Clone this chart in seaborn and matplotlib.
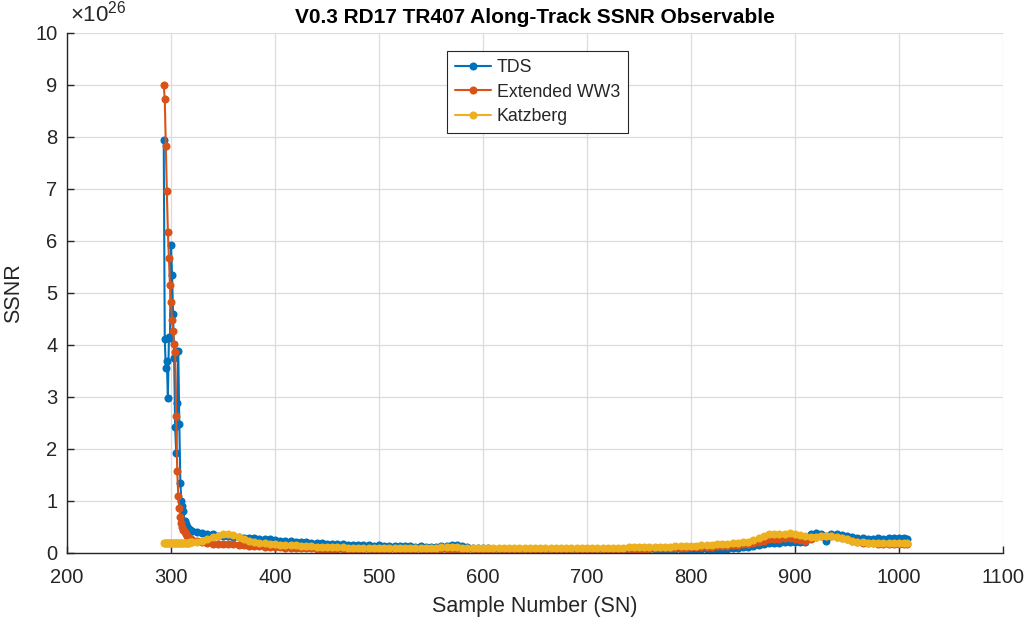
import numpy as np
import pandas as pd
import matplotlib
matplotlib.use("Agg")
import matplotlib.pyplot as plt
import seaborn as sns

# Sample numbers (dense near the spike, every 5 SN afterwards)
sample_number = list(range(293, 321)) + list(range(325, 1006, 5)) + [1008]

# SSNR values in units of 1e26
tds = [
    7.95, 4.12, 3.55, 3.70, 2.98, 4.15, 4.13, 5.93, 5.35, 4.60, 3.75, 2.42, 1.93, 2.88,
    3.88, 2.48, 1.35, 1.00, 0.90, 0.80, 0.62, 0.55, 0.50, 0.48, 0.46, 0.44, 0.43, 0.42,
    0.40, 0.38, 0.37, 0.36, 0.33, 0.32, 0.32, 0.30, 0.30, 0.29,
    0.28, 0.28, 0.27, 0.26, 0.26, 0.25, 0.24, 0.23, 0.23, 0.22,
    0.22, 0.21, 0.20, 0.20, 0.19, 0.18, 0.18, 0.17, 0.17, 0.16,
    0.16, 0.15, 0.15, 0.15, 0.14, 0.15, 0.14, 0.14, 0.13, 0.14,
    0.13, 0.13, 0.12, 0.13, 0.12, 0.12, 0.12, 0.13, 0.14, 0.15,
    0.15, 0.13, 0.11, 0.10, 0.10, 0.09, 0.09, 0.08, 0.08, 0.08,
    0.08, 0.07, 0.07, 0.07, 0.07, 0.07, 0.07, 0.07, 0.07, 0.07,
    0.07, 0.07, 0.07, 0.07, 0.07, 0.07, 0.07, 0.07, 0.07, 0.07,
    0.06, 0.06, 0.06, 0.06, 0.06, 0.07, 0.07, 0.07, 0.07, 0.07,
    0.07, 0.07, 0.07, 0.07, 0.07, 0.07, 0.07, 0.07, 0.07, 0.07,
    0.07, 0.08, 0.08, 0.09, 0.10, 0.11, 0.12, 0.14, 0.15, 0.17,
    0.19, 0.20, 0.20, 0.21, 0.21, 0.21, 0.22, 0.22, 0.36, 0.38,
    0.37, 0.23, 0.36, 0.37, 0.35, 0.33, 0.31, 0.29, 0.28, 0.27,
    0.27, 0.28, 0.27, 0.28, 0.29, 0.28, 0.29, 0.27,
]

extended_ww3 = [
    9.00, 8.73, 7.83, 6.96, 6.18, 5.68, 5.16, 4.83, 4.48, 4.27, 4.02, 3.87, 2.63, 1.57,
    1.10, 0.86, 0.70, 0.58, 0.50, 0.44, 0.40, 0.36, 0.33, 0.31, 0.29, 0.27, 0.26, 0.25,
    0.23, 0.21, 0.19, 0.18, 0.18, 0.18, 0.18, 0.17, 0.16, 0.15,
    0.14, 0.13, 0.13, 0.12, 0.12, 0.11, 0.11, 0.10, 0.10, 0.10,
    0.09, 0.09, 0.09, 0.08, 0.08, 0.08, 0.08, 0.08, 0.07, 0.07,
    0.07, 0.07, 0.07, 0.07, 0.07, 0.07, 0.07, 0.07, 0.07, 0.07,
    0.07, 0.07, 0.07, 0.07, 0.07, 0.07, 0.07, 0.07, 0.07, 0.07,
    0.07, 0.07, 0.07, 0.07, 0.07, 0.07, 0.07, 0.07, 0.07, 0.07,
    0.07, 0.07, 0.07, 0.07, 0.07, 0.07, 0.07, 0.07, 0.07, 0.07,
    0.07, 0.07, 0.07, 0.07, 0.07, 0.07, 0.07, 0.07, 0.07, 0.07,
    0.07, 0.075, 0.075, 0.08, 0.08, 0.08, 0.085, 0.085, 0.09, 0.09,
    0.09, 0.095, 0.10, 0.10, 0.105, 0.11, 0.11, 0.115, 0.12, 0.125,
    0.13, 0.135, 0.14, 0.15, 0.16, 0.17, 0.18, 0.20, 0.22, 0.24,
    0.26, 0.27, 0.27, 0.28, 0.28, 0.27, 0.25, 0.23, 0.27, 0.31,
    0.32, 0.33, 0.32, 0.30, 0.28, 0.26, 0.24, 0.22, 0.20, 0.19,
    0.19, 0.18, 0.18, 0.18, 0.18, 0.18, 0.18, 0.18,
]

katzberg = [
    0.20, 0.20, 0.20, 0.20, 0.20, 0.20, 0.20, 0.20, 0.20, 0.20, 0.20, 0.20, 0.20, 0.20,
    0.20, 0.20, 0.20, 0.20, 0.20, 0.20, 0.20, 0.20, 0.20, 0.20, 0.20, 0.205, 0.21, 0.21,
    0.22, 0.24, 0.27, 0.30, 0.33, 0.36, 0.37, 0.35, 0.31, 0.27,
    0.24, 0.22, 0.20, 0.19, 0.18, 0.17, 0.16, 0.155, 0.15, 0.145,
    0.14, 0.135, 0.13, 0.125, 0.12, 0.12, 0.115, 0.11, 0.11, 0.105,
    0.105, 0.10, 0.10, 0.10, 0.10, 0.10, 0.10, 0.10, 0.10, 0.10,
    0.10, 0.10, 0.10, 0.10, 0.10, 0.10, 0.10, 0.11, 0.11, 0.11,
    0.11, 0.10, 0.10, 0.095, 0.095, 0.09, 0.09, 0.09, 0.09, 0.09,
    0.09, 0.09, 0.09, 0.09, 0.09, 0.09, 0.09, 0.09, 0.09, 0.09,
    0.09, 0.09, 0.09, 0.09, 0.095, 0.095, 0.095, 0.10, 0.10, 0.10,
    0.10, 0.105, 0.105, 0.11, 0.11, 0.11, 0.115, 0.115, 0.12, 0.12,
    0.12, 0.125, 0.13, 0.13, 0.135, 0.14, 0.14, 0.145, 0.15, 0.16,
    0.165, 0.17, 0.18, 0.19, 0.20, 0.21, 0.22, 0.25, 0.29, 0.33,
    0.36, 0.37, 0.37, 0.375, 0.38, 0.37, 0.35, 0.32, 0.30, 0.30,
    0.32, 0.33, 0.32, 0.30, 0.28, 0.26, 0.24, 0.22, 0.21, 0.20,
    0.20, 0.195, 0.19, 0.19, 0.19, 0.19, 0.19, 0.19,
]

series_names = ["TDS", "Extended WW3", "Katzberg"]
series_colors = ["#0072BD", "#D95319", "#EDB120"]
x_ticks = [200, 300, 400, 500, 600, 700, 800, 900, 1000, 1100]
y_ticks = [0, 1, 2, 3, 4, 5, 6, 7, 8, 9, 10]

assert len(sample_number) == len(tds) == len(extended_ww3) == len(katzberg)

sns.set_style("ticks")
plt.rcParams["font.family"] = ["Liberation Sans", "DejaVu Sans"]
plt.rcParams["mathtext.fontset"] = "custom"
plt.rcParams["mathtext.rm"] = "Liberation Sans"

fig = plt.figure(figsize=(10.34, 6.24), dpi=100)
ax = fig.add_axes([67 / 1034, 1 - 553 / 624, 936 / 1034, 520 / 624])

for name, vals, col in zip(series_names, [tds, extended_ww3, katzberg], series_colors):
    df = pd.DataFrame({"SN": sample_number, "SSNR": vals})
    sns.lineplot(data=df, x="SN", y="SSNR", ax=ax, color=col, label=name,
                 marker="o", markersize=5.8, markeredgewidth=0, linewidth=1.5,
                 sort=False, estimator=None)

ax.set_xlim(200, 1100)
ax.set_ylim(0, 10)
ax.set_xticks(x_ticks)
ax.set_yticks(y_ticks)
ax.set_xticklabels([str(t) for t in x_ticks])
ax.set_yticklabels([str(t) for t in y_ticks])
ax.grid(True, color="#dcdcdc", linewidth=0.9)
ax.set_axisbelow(True)
for s in ["top", "right"]:
    ax.spines[s].set_visible(False)
for s in ["left", "bottom"]:
    ax.spines[s].set_color("#262626")
    ax.spines[s].set_linewidth(1.0)
ax.tick_params(axis="both", direction="in", length=5, width=1.0, color="#262626",
               labelsize=14.5, labelcolor="#262626")
ax.tick_params(axis="x", pad=11)
ax.tick_params(axis="y", pad=7)

ax.set_xlabel("Sample Number (SN)", fontsize=15.5, color="#262626", labelpad=6)
ax.set_ylabel("SSNR", fontsize=15.5, color="#262626", labelpad=8)
ax.set_title("V0.3 RD17 TR407 Along-Track SSNR Observable", fontsize=15,
             fontweight="bold", color="black", pad=7)
ax.text(0.003, 1.012, r"$\times10^{26}$", transform=ax.transAxes, fontsize=16,
        color="#262626", ha="left", va="bottom")

leg = ax.legend(loc="upper left", bbox_to_anchor=(0.406, 0.965), fontsize=12.8,
                frameon=True, fancybox=False, edgecolor="#262626", framealpha=1,
                borderpad=0.45, labelspacing=0.42, handlelength=2.0, handletextpad=0.35,
                borderaxespad=0)
leg.get_frame().set_linewidth(0.8)

fig.savefig("out.png", dpi=100)
